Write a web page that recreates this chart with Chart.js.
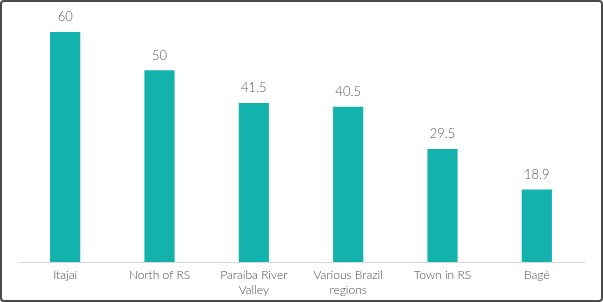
<!DOCTYPE html>
<html>
<head>
<meta charset="utf-8">
<script src="https://cdn.jsdelivr.net/npm/chart.js@4"></script>
<style>
  html, body { margin: 0; padding: 0; background: #fff; }
  #wrap { position: relative; width: 603px; height: 302px; }
  #frame { position: absolute; left: 0; top: 0; width: 603px; height: 302px; box-sizing: border-box;
           border: 2px solid #4a4a4a; border-radius: 4px; pointer-events: none; }
</style>
</head>
<body>
<div id="wrap">
  <canvas id="myChart" width="603" height="302"></canvas>
  <div id="frame"></div>
</div>
<script>
const categories = [['Itajaí'], ['North of RS'], ['Paraíba River', 'Valley'], ['Various Brazil', 'regions'], ['Town in RS'], ['Bagé']];
const values = [60, 50, 41.5, 40.5, 29.5, 18.9];
const valueLabels = ['60', '50', '41.5', '40.5', '29.5', '18.9'];

const barLabels = {
  id: 'barLabels',
  afterDatasetsDraw(chart) {
    const ctx = chart.ctx;
    const meta = chart.getDatasetMeta(0);
    ctx.save();
    ctx.font = '300 13px Lato';
    ctx.fillStyle = '#595959';
    ctx.textAlign = 'center';
    ctx.textBaseline = 'middle';
    meta.data.forEach(function(bar, i) {
      ctx.fillText(valueLabels[i], bar.x, bar.y - 15);
    });
    ctx.restore();
  }
};

document.addEventListener('DOMContentLoaded', function() {
  const ctx = document.getElementById('myChart');

  new Chart(ctx, {
    type: 'bar',
    data: {
      labels: categories,
      datasets: [{
        data: values,
        backgroundColor: '#14b2ad',
        barPercentage: 0.4,
        categoryPercentage: 0.8
      }]
    },
    options: {
      responsive: false,
      animation: false,
      layout: { padding: { top: 32, left: 18, right: 19, bottom: 0 } },
      plugins: { legend: { display: false }, tooltip: { enabled: false } },
      scales: {
        x: {
          grid: { display: false, drawTicks: false },
          border: { display: true, color: '#d9d9d9', width: 1 },
          ticks: { color: '#4d4d4d', padding: 6, font: { family: 'Lato', weight: '300', size: 12, lineHeight: 1.25 }, maxRotation: 0 },
          afterFit(scale) { scale.height = 40; }
        },
        y: {
          display: false,
          min: 0,
          max: 60
        }
      }
    },
    plugins: [barLabels]
  });
});
</script>
</body>
</html>
